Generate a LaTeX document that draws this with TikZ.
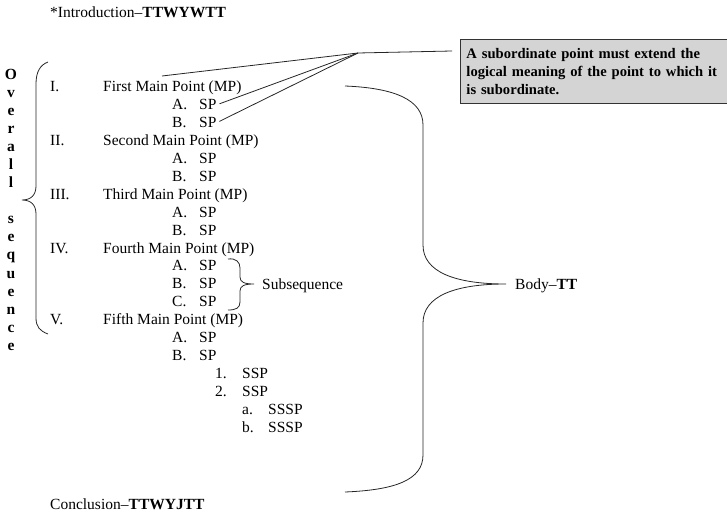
\documentclass[tikz,border=0pt]{standalone}
\usepackage{fontspec}
\setmainfont{Liberation Serif}
\begin{document}
\begin{tikzpicture}[x=1pt,y=-1pt,
  txt/.style={font=\fontsize{15.5}{18}\selectfont, anchor=base west, inner sep=0pt},
  ltr/.style={font=\bfseries\fontsize{15.5}{18}\selectfont, anchor=base, inner sep=0pt},
  line/.style={line width=0.8pt, black!85},
  notebox/.style={draw=black!80, line width=0.9pt, fill=black!17, anchor=north west,
    minimum height=64pt, text width=272pt, inner xsep=6pt,
    align=left, font=\bfseries\fontsize{14.6}{18}\selectfont}]
\useasboundingbox (0,0) rectangle (727,526);

% headings
\node[txt] (intro) at (50,18) {*Introduction--\textbf{TTWYWTT}};
\node[txt] (concl) at (50,509) {Conclusion--\textbf{TTWYJTT}};

% vertical label
\foreach \c [count=\k from 0] in {O,v,e,r,a,l,l}
  \node[ltr] (ov\k) at (11,80+18*\k) {\c};
\foreach \c [count=\k from 0] in {s,e,q,u,e,n,c,e}
  \node[ltr] (sq\k) at (11,224+18*\k) {\c};

% outline rows
\node[txt] (r1) at (50,92) {I.};    \node[txt] (mp1) at (103,92) {First Main Point (MP)};
\node[txt] (r1a) at (172,109.9) {A.}; \node[txt] (sp1a) at (199,109.9) {SP};
\node[txt] (r1b) at (172,127.8) {B.}; \node[txt] (sp1b) at (199,127.8) {SP};
\node[txt] (r2) at (50,145.7) {II.};  \node[txt] (mp2) at (103,145.7) {Second Main Point (MP)};
\node[txt] (r2a) at (172,163.6) {A.}; \node[txt] (sp2a) at (199,163.6) {SP};
\node[txt] (r2b) at (172,181.5) {B.}; \node[txt] (sp2b) at (199,181.5) {SP};
\node[txt] (r3) at (50,199.4) {III.}; \node[txt] (mp3) at (103,199.4) {Third Main Point (MP)};
\node[txt] (r3a) at (172,217.3) {A.}; \node[txt] (sp3a) at (199,217.3) {SP};
\node[txt] (r3b) at (172,235.2) {B.}; \node[txt] (sp3b) at (199,235.2) {SP};
\node[txt] (r4) at (50,253.1) {IV.};  \node[txt] (mp4) at (103,253.1) {Fourth Main Point (MP)};
\node[txt] (r4a) at (172,271) {A.};   \node[txt] (sp4a) at (199,271) {SP};
\node[txt] (r4b) at (172,288.9) {B.}; \node[txt] (sp4b) at (199,288.9) {SP};
\node[txt] (r4c) at (172,306.8) {C.}; \node[txt] (sp4c) at (199,306.8) {SP};
\node[txt] (r5) at (50,324.7) {V.};   \node[txt] (mp5) at (103,324.7) {Fifth Main Point (MP)};
\node[txt] (r5a) at (172,342.6) {A.}; \node[txt] (sp5a) at (199,342.6) {SP};
\node[txt] (r5b) at (172,360.5) {B.}; \node[txt] (sp5b) at (199,360.5) {SP};
\node[txt] (r51) at (215,378.4) {1.}; \node[txt] (ssp1) at (242,378.4) {SSP};
\node[txt] (r52) at (215,396.3) {2.}; \node[txt] (ssp2) at (242,396.3) {SSP};
\node[txt] (r5x) at (242,414.2) {a.}; \node[txt] (sssp1) at (268,414.2) {SSSP};
\node[txt] (r5y) at (242,432.1) {b.}; \node[txt] (sssp2) at (268,432.1) {SSSP};

% side labels
\node[txt] (subs) at (262,289) {Subsequence};
\node[txt] (body) at (515,289) {Body--\textbf{TT}};

% note box
\node[notebox] (note) at (460,39) {A subordinate point must extend the\\logical meaning of the point to which it\\is subordinate.};

% callout lines
\coordinate (hub) at (358,53);
\coordinate (hubend) at (452,51);
\coordinate (c1) at (162,76);
\draw[line] (c1) -- (hub) -- (hubend);
\draw[line, shorten <=3pt] (sp1a.east) -- (hub);
\draw[line, shorten <=3pt] (sp1b.east) -- (hub);

% overall-sequence brace
\draw[line] (48,62) .. controls (40,65) and (36,72) .. (36,84) -- (36,186)
  .. controls (36,195) and (31,200) .. (22,200)
  .. controls (31,200) and (36,205) .. (36,214) -- (36,318)
  .. controls (36,327) and (40,331) .. (48,334);

% subsequence brace
\draw[line] (228,259) .. controls (236,258) and (240,262) .. (240,268) -- (240,277)
  .. controls (240,282) and (244,284) .. (254,284)
  .. controls (244,284) and (240,286) .. (240,291) -- (240,302)
  .. controls (240,308) and (236,310) .. (228,310);

% body brace
\draw[line] (345,86) .. controls (395,88) and (423,100) .. (423,125) -- (423,245)
  .. controls (423,272) and (455,284) .. (506,284)
  .. controls (455,284) and (423,296) .. (423,323) -- (423,455)
  .. controls (423,480) and (395,490) .. (345,492);
\end{tikzpicture}
\end{document}
